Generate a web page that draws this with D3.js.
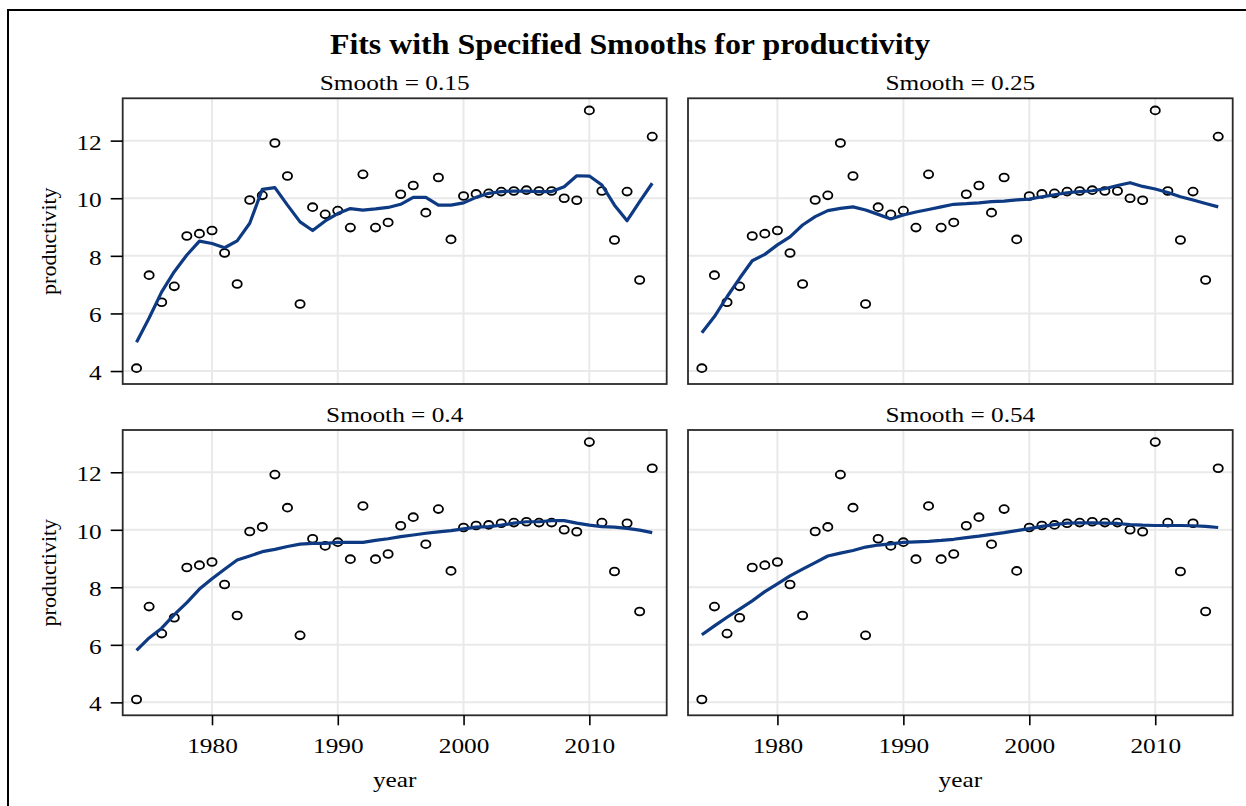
<!DOCTYPE html>
<html><head><meta charset="utf-8">
<script src="https://cdn.jsdelivr.net/npm/d3@7"></script>
<style>
html,body{margin:0;padding:0;background:#fff;}
svg{display:block;}
text{font-family:"Liberation Serif","Times New Roman",serif;fill:#000;}
</style></head>
<body>
<script>
const years = [1974,1975,1976,1977,1978,1979,1980,1981,1982,1983,1984,1985,1986,1987,1988,1989,1990,1991,1992,1993,1994,1995,1996,1997,1998,1999,2000,2001,2002,2003,2004,2005,2006,2007,2008,2009,2010,2011,2012,2013,2014,2015];
const productivity = [4.10,7.33,6.39,6.94,8.69,8.77,8.88,8.10,7.02,9.94,10.10,11.92,10.77,6.33,9.69,9.44,9.57,8.98,10.83,8.98,9.16,10.14,10.44,9.50,10.72,8.57,10.08,10.15,10.17,10.23,10.25,10.28,10.25,10.25,10.00,9.93,13.05,10.25,8.55,10.23,7.16,12.14];
const fit015 = [5.00,5.84,6.75,7.45,8.03,8.51,8.43,8.28,8.52,9.13,10.31,10.37,9.76,9.18,8.88,9.21,9.47,9.64,9.59,9.63,9.68,9.79,10.03,10.03,9.76,9.76,9.84,10.03,10.17,10.23,10.25,10.25,10.23,10.23,10.40,10.78,10.77,10.46,9.76,9.22,9.88,10.52];
const fit025 = [5.33,5.89,6.58,7.22,7.83,8.05,8.38,8.66,9.07,9.36,9.57,9.65,9.70,9.59,9.44,9.28,9.42,9.52,9.61,9.70,9.79,9.81,9.84,9.88,9.90,9.94,9.97,10.05,10.12,10.19,10.23,10.26,10.33,10.44,10.54,10.41,10.32,10.20,10.05,9.94,9.82,9.70];
const fit040 = [5.81,6.24,6.58,7.05,7.47,7.94,8.30,8.63,8.95,9.09,9.24,9.32,9.42,9.50,9.53,9.53,9.56,9.56,9.56,9.63,9.69,9.76,9.82,9.88,9.93,9.97,10.03,10.09,10.11,10.16,10.23,10.28,10.28,10.32,10.32,10.23,10.16,10.11,10.09,10.05,9.99,9.90];
const fit054 = [6.35,6.66,6.96,7.24,7.53,7.85,8.12,8.40,8.63,8.86,9.09,9.19,9.28,9.40,9.47,9.51,9.56,9.58,9.60,9.63,9.67,9.73,9.78,9.84,9.90,9.97,10.04,10.12,10.18,10.23,10.24,10.24,10.23,10.22,10.18,10.16,10.15,10.15,10.15,10.14,10.12,10.08];
const smoothLabels = ["Smooth = 0.15","Smooth = 0.25","Smooth = 0.4","Smooth = 0.54"];
const xTicks = [1980,1990,2000,2010];
const yTicks = [4,6,8,10,12];
const titleText = "Fits with Specified Smooths for productivity";

const W = 1246, H = 806;
const SX = 1.15; // horizontal stretch of text in the reference
const svg = d3.select("body").append("svg").attr("width",W).attr("height",H);

// outer frame
svg.append("rect").attr("x",8).attr("y",10).attr("width",1250).attr("height",820)
  .attr("fill","none").attr("stroke","#000").attr("stroke-width",2);

function stretchedText(sel, x, y, txt, size, weight, anchor, sx){
  return sel.append("text")
    .attr("transform",`translate(${x},${y}) scale(${sx},1)`)
    .attr("text-anchor",anchor).attr("font-size",size).attr("font-weight",weight)
    .text(txt);
}

stretchedText(svg, 630, 54.3, titleText, 29, "bold", "middle", 1.1);

const colsX = [[122.7,666.7],[688,1232.7]];
const rowsY = [[98.3,384],[430,715.3]];
const fits = [fit015, fit025, fit040, fit054];
const points = years.map((y,i)=>({year:y, v:productivity[i]}));

fits.forEach((fit, k) => {
  const r = Math.floor(k/2), c = k%2;
  const [x0,x1] = colsX[c], [y0,y1] = rowsY[r];
  const x = d3.scaleLinear().domain([1972.9,2016.15]).range([x0,x1]);
  const y = d3.scaleLinear().domain([3.55,13.47]).range([y1,y0]);
  const g = svg.append("g");

  // grid
  g.selectAll(".gx").data(xTicks).join("line")
    .attr("x1",d=>x(d)).attr("x2",d=>x(d)).attr("y1",y0).attr("y2",y1)
    .attr("stroke","#e9e9e9").attr("stroke-width",2);
  g.selectAll(".gy").data(yTicks).join("line")
    .attr("x1",x0).attr("x2",x1).attr("y1",d=>y(d)).attr("y2",d=>y(d))
    .attr("stroke","#e9e9e9").attr("stroke-width",2);

  // points
  g.selectAll("ellipse").data(points).join("ellipse")
    .attr("cx",d=>x(d.year)).attr("cy",d=>y(d.v)).attr("rx",4.6).attr("ry",3.9)
    .attr("fill","none").attr("stroke","#000").attr("stroke-width",1.8);

  // fit line
  const line = d3.line().x((d,i)=>x(years[i])).y(d=>y(d));
  g.append("path").datum(fit).attr("d",line)
    .attr("fill","none").attr("stroke","#0d3a82").attr("stroke-width",3.2)
    .attr("stroke-linejoin","round");

  // frame
  g.append("rect").attr("x",x0).attr("y",y0).attr("width",x1-x0).attr("height",y1-y0)
    .attr("fill","none").attr("stroke","#2a2a2a").attr("stroke-width",1.8);

  // panel title
  stretchedText(svg, (x0+x1)/2, y0-8.5, smoothLabels[k], 22, "normal", "middle", SX);

  // axes
  if (c === 0) {
    const ax = svg.append("g").attr("transform",`translate(${x0},0)`)
      .call(d3.axisLeft(y).tickValues(yTicks).tickSize(12).tickPadding(9).tickFormat(d3.format("d")));
    ax.select(".domain").remove();
    ax.selectAll(".tick line").attr("stroke","#000").attr("stroke-width",1.6);
    ax.selectAll(".tick text").attr("font-size",22).attr("font-family",null)
      .each(function(){
        const t = d3.select(this); const tx = +t.attr("x");
        t.attr("x",0).attr("dy",null).attr("dominant-baseline","central")
         .attr("transform",`translate(${tx},1) scale(${SX},1)`);
      });
    svg.append("text").attr("transform",`translate(56,${(y0+y1)/2}) rotate(-90)`)
      .attr("text-anchor","middle").attr("font-size",22).text("productivity");
  }
  if (r === 1) {
    const ax = svg.append("g").attr("transform",`translate(0,${y1})`)
      .call(d3.axisBottom(x).tickValues(xTicks).tickSize(10).tickPadding(12).tickFormat(d3.format("d")));
    ax.select(".domain").remove();
    ax.selectAll(".tick line").attr("stroke","#000").attr("stroke-width",1.6);
    ax.selectAll(".tick text").attr("font-size",22).attr("font-family",null)
      .each(function(){
        const t = d3.select(this);
        t.attr("y",0).attr("dy",null)
         .attr("transform",`translate(0,37.5) scale(${SX},1)`);
      });
    stretchedText(svg, (x0+x1)/2, 787, "year", 22, "normal", "middle", SX);
  }
});
</script>
</body></html>
